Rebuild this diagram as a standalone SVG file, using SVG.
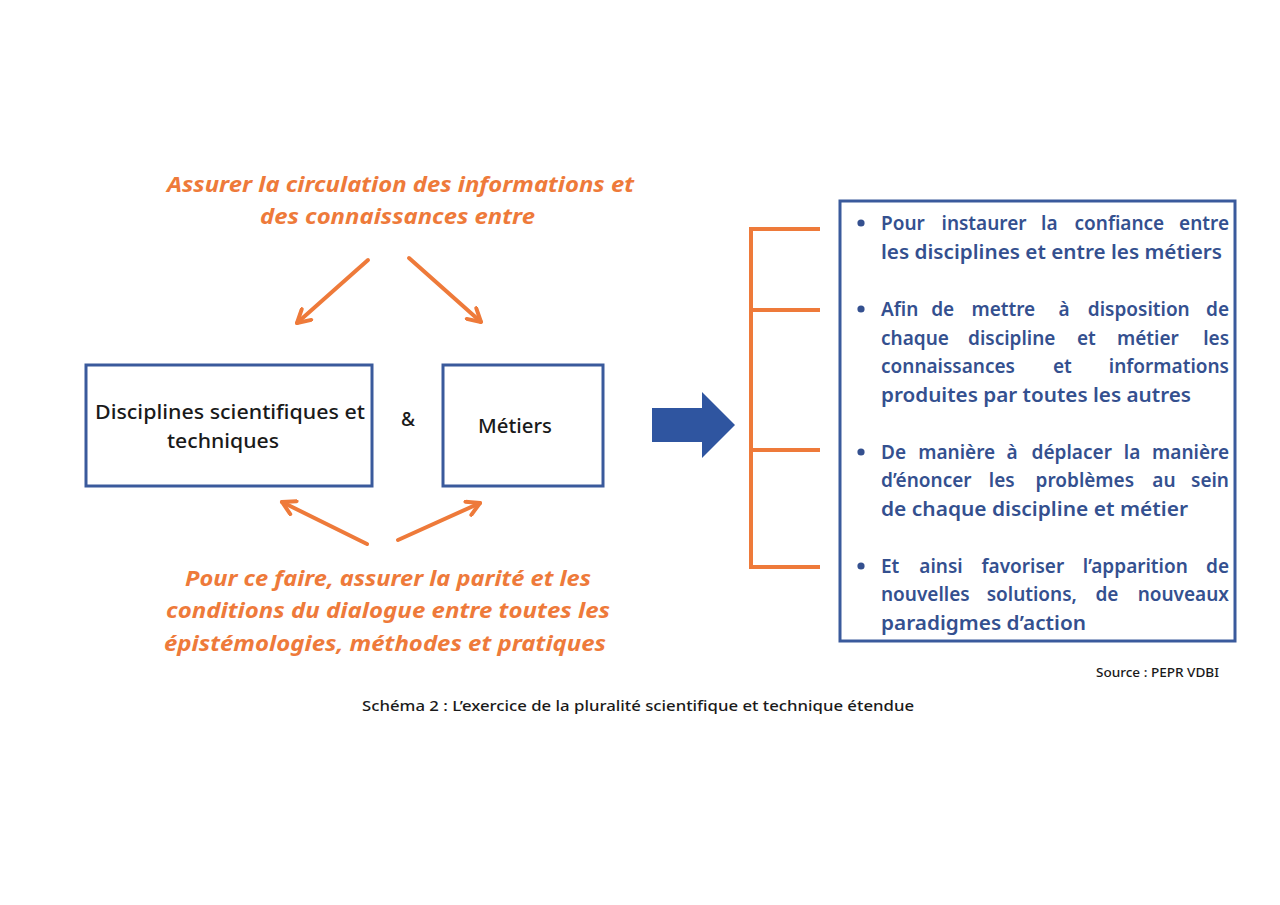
<svg xmlns="http://www.w3.org/2000/svg" width="1280" height="905" viewBox="0 0 1280 905">
<style>
.box{fill:#fff;stroke:#3A5A9C;stroke-width:3}
.or{fill:#EE7A3A;font-family:"Noto Sans","Open Sans",sans-serif;font-style:italic;font-weight:700;font-size:22px}
.bk{fill:#1a1a1a;font-family:"Noto Sans","Open Sans",sans-serif;font-weight:500;font-size:19px}
.bl{fill:#34508F;font-family:"Noto Sans","Open Sans",sans-serif;font-weight:600;font-size:19px}
.cap{fill:#1a1a1a;font-family:"Noto Sans","Open Sans",sans-serif;font-weight:500}
.ol{stroke:#EE7A3A;stroke-width:4;fill:none;stroke-linecap:round}
.br{stroke:#EE7A3A;stroke-width:4;fill:none}
.end{text-anchor:end}
</style>
<defs>
<marker id="chev" viewBox="0 0 10 10" refX="8.6" refY="5" markerWidth="18" markerHeight="18" markerUnits="userSpaceOnUse" orient="auto">
<path d="M1.5,1 L8.6,5 L1.5,9" fill="none" stroke="#EE7A3A" stroke-width="2.2" stroke-linecap="round" stroke-linejoin="round"/>
</marker>
</defs>
<rect width="1280" height="905" fill="#fff"/>

<g id="top-label">
<text class="or" x="167" y="192" textLength="467" lengthAdjust="spacingAndGlyphs">Assurer la circulation des informations et</text>
<text class="or" x="260" y="224" textLength="275" lengthAdjust="spacingAndGlyphs">des connaissances entre</text>
</g>

<g id="node-disciplines">
<rect class="box" x="86" y="365" width="286" height="121"/>
<text class="bk" x="95" y="419" textLength="270" lengthAdjust="spacingAndGlyphs">Disciplines scientifiques et</text>
<text class="bk" x="167" y="448" textLength="112" lengthAdjust="spacingAndGlyphs">techniques</text>
</g>

<g id="ampersand">
<text class="bk" x="401" y="426">&amp;</text>
</g>

<g id="node-metiers">
<rect class="box" x="443" y="365" width="160" height="121"/>
<text class="bk" x="478" y="433" textLength="74" lengthAdjust="spacingAndGlyphs">Métiers</text>
</g>

<g id="bottom-label">
<text class="or" x="185" y="586" textLength="406" lengthAdjust="spacingAndGlyphs">Pour ce faire, assurer la parité et les</text>
<text class="or" x="166" y="618" textLength="444" lengthAdjust="spacingAndGlyphs">conditions du dialogue entre toutes les</text>
<text class="or" x="164" y="651" textLength="442" lengthAdjust="spacingAndGlyphs">épistémologies, méthodes et pratiques</text>
</g>

<g id="connectors">
<line class="ol" x1="368" y1="260" x2="297" y2="323" marker-end="url(#chev)"/>
<line class="ol" x1="409" y1="258" x2="481" y2="322" marker-end="url(#chev)"/>
<line class="ol" x1="367" y1="544" x2="282" y2="502" marker-end="url(#chev)"/>
<line class="ol" x1="398" y1="540" x2="480" y2="503" marker-end="url(#chev)"/>
<polygon points="652,408 702,408 702,392 735,425 702,458 702,442 652,442" fill="#2F55A0"/>
<path class="br" d="M820,229 H751 V567 H820 M751,310 H820 M751,450 H820"/>
</g>

<g id="node-goals">
<rect class="box" x="840" y="201" width="395" height="440"/>
<g fill="#34508F">
<circle cx="861" cy="223" r="3.6"/>
<circle cx="861" cy="309" r="3.6"/>
<circle cx="861" cy="452" r="3.6"/>
<circle cx="861" cy="566" r="3.6"/>
</g>
<text class="bl" y="230"><tspan x="881">Pour</tspan><tspan x="941.5">instaurer</tspan><tspan x="1041">la</tspan><tspan x="1074.5">confiance</tspan></text>
<text class="bl end" x="1229" y="230">entre</text>
<text class="bl" x="881" y="259" textLength="341" lengthAdjust="spacingAndGlyphs">les disciplines et entre les métiers</text>

<text class="bl" y="316"><tspan x="881">Afin</tspan><tspan x="931.2">de</tspan><tspan x="971.4">mettre</tspan><tspan x="1058.6">à</tspan><tspan x="1087.8">disposition</tspan></text>
<text class="bl end" x="1229" y="316">de</text>
<text class="bl" y="345"><tspan x="881">chaque</tspan><tspan x="968">discipline</tspan><tspan x="1077">et</tspan><tspan x="1117">métier</tspan></text>
<text class="bl end" x="1229" y="345">les</text>
<text class="bl" y="373"><tspan x="881">connaissances</tspan><tspan x="1053">et</tspan></text>
<text class="bl end" x="1229" y="373">informations</text>
<text class="bl" x="881" y="402" textLength="310" lengthAdjust="spacingAndGlyphs">produites par toutes les autres</text>

<text class="bl" y="459"><tspan x="881">De</tspan><tspan x="918.2">manière</tspan><tspan x="1006.4">à</tspan><tspan x="1031.6">déplacer</tspan><tspan x="1123.8">la</tspan></text>
<text class="bl end" x="1229" y="459">manière</text>
<text class="bl" y="487"><tspan x="881">d’énoncer</tspan><tspan x="988.8">les</tspan><tspan x="1035.5">problèmes</tspan><tspan x="1152.3">au</tspan></text>
<text class="bl end" x="1229" y="487">sein</text>
<text class="bl" x="881" y="516" textLength="307" lengthAdjust="spacingAndGlyphs">de chaque discipline et métier</text>

<text class="bl" y="573"><tspan x="881">Et</tspan><tspan x="919.3">ainsi</tspan><tspan x="981.5">favoriser</tspan><tspan x="1082.8">l’apparition</tspan></text>
<text class="bl end" x="1229" y="573">de</text>
<text class="bl" y="601"><tspan x="881">nouvelles</tspan><tspan x="986.7">solutions,</tspan><tspan x="1095.4">de</tspan></text>
<text class="bl end" x="1229" y="601">nouveaux</text>
<text class="bl" x="881" y="630" textLength="205" lengthAdjust="spacingAndGlyphs">paradigmes d’action</text>
</g>

<g id="captions">
<text class="cap end" x="1219" y="677" font-size="12.5" font-weight="600" textLength="123" lengthAdjust="spacingAndGlyphs">Source : PEPR VDBI</text>
<text class="cap" x="362" y="711" font-size="15" textLength="552" lengthAdjust="spacingAndGlyphs">Schéma 2 : L’exercice de la pluralité scientifique et technique étendue</text>
</g>
</svg>
